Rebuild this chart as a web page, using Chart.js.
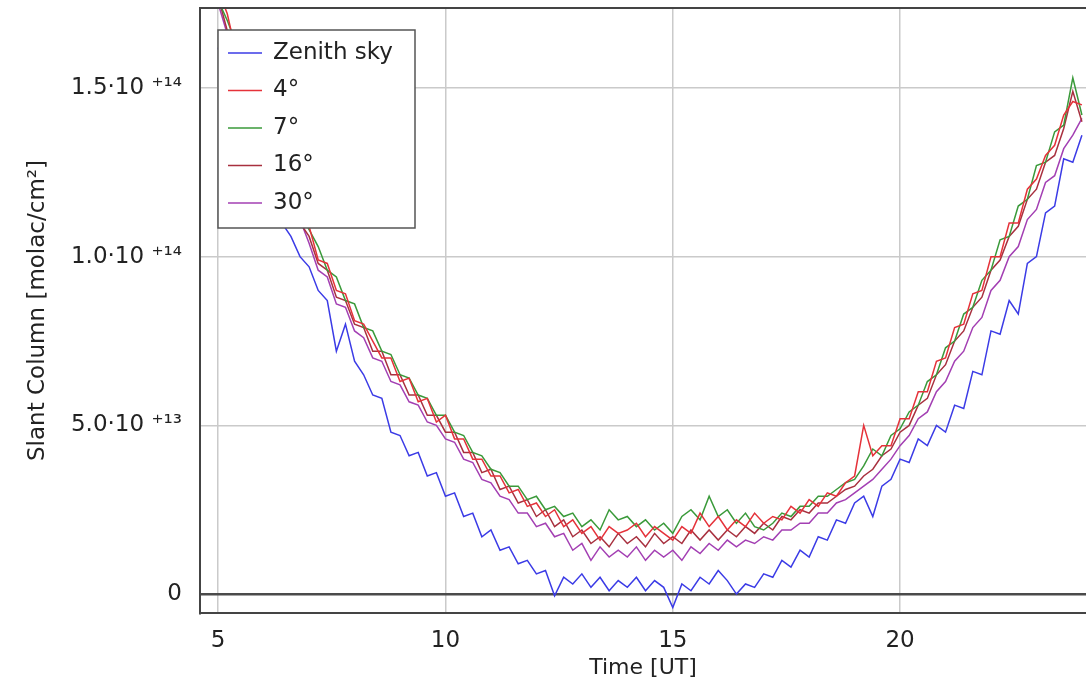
<!DOCTYPE html>
<html>
<head>
<meta charset="utf-8">
<script src="https://cdn.jsdelivr.net/npm/chart.js@4"></script>
<style>
  html, body { margin: 0; padding: 0; background: #fff; overflow: hidden; }
  #wrap { width: 1086px; height: 686px; }
</style>
</head>
<body>
<div id="wrap"><canvas id="chart" width="1086" height="686"></canvas></div>
<script>
// time in UT (hours)
const times = [
  5.0,5.2,5.4,5.6,5.8,6.0,6.2,6.4,6.6,6.8,
  7.0,7.2,7.4,7.6,7.8,8.0,8.2,8.4,8.6,8.8,
  9.0,9.2,9.4,9.6,9.8,10.0,10.2,10.4,10.6,10.8,
  11.0,11.2,11.4,11.6,11.8,12.0,12.2,12.4,12.6,12.8,
  13.0,13.2,13.4,13.6,13.8,14.0,14.2,14.4,14.6,14.8,
  15.0,15.2,15.4,15.6,15.8,16.0,16.2,16.4,16.6,16.8,
  17.0,17.2,17.4,17.6,17.8,18.0,18.2,18.4,18.6,18.8,
  19.0,19.2,19.4,19.6,19.8,20.0,20.2,20.4,20.6,20.8,
  21.0,21.2,21.4,21.6,21.8,22.0,22.2,22.4,22.6,22.8,
  23.0,23.2,23.4,23.6,23.8,24.0
];

// slant columns, in units of 1e13 molec/cm2
const zenith = [
  16.2,15.0,14.8,13.5,13.3,12.2,12.1,11.0,10.6,10.0,
  9.7,9.0,8.7,7.2,8.0,6.9,6.5,5.9,5.8,4.8,
  4.7,4.1,4.2,3.5,3.6,2.9,3.0,2.3,2.4,1.7,
  1.9,1.3,1.4,0.9,1.0,0.6,0.7,-0.05,0.5,0.3,
  0.6,0.2,0.5,0.1,0.4,0.2,0.5,0.1,0.4,0.2,
  -0.4,0.3,0.1,0.5,0.3,0.7,0.4,0.0,0.3,0.2,
  0.6,0.5,1.0,0.8,1.3,1.1,1.7,1.6,2.2,2.1,
  2.7,2.9,2.3,3.2,3.4,4.0,3.9,4.6,4.4,5.0,
  4.8,5.6,5.5,6.6,6.5,7.8,7.7,8.7,8.3,9.8,
  10.0,11.3,11.5,12.9,12.8,13.6
];
const deg4 = [
  17.9,17.2,16.0,15.6,14.5,14.2,13.1,12.9,12.1,11.3,
  10.9,9.9,9.8,9.0,8.9,8.1,8.0,7.5,7.0,7.0,
  6.3,6.4,5.7,5.8,5.1,5.3,4.6,4.6,4.0,4.0,
  3.5,3.5,3.0,3.1,2.6,2.7,2.3,2.5,2.0,2.2,
  1.8,2.0,1.6,2.0,1.8,1.9,2.1,1.7,2.0,1.8,
  1.6,2.0,1.8,2.4,2.0,2.3,1.9,2.2,2.0,2.4,
  2.1,2.3,2.2,2.6,2.4,2.8,2.6,3.0,2.9,3.3,
  3.5,5.0,4.1,4.4,4.4,5.2,5.2,6.0,6.0,6.9,
  7.0,7.9,8.0,8.9,9.0,10.0,10.0,11.0,11.0,12.0,
  12.3,13.0,13.3,14.2,14.6,14.5
];
const deg7 = [
  17.6,17.0,16.3,15.4,14.9,13.9,13.5,12.6,12.3,11.3,
  10.8,10.3,9.6,9.4,8.7,8.6,7.9,7.8,7.2,7.1,
  6.5,6.4,5.9,5.8,5.3,5.3,4.8,4.7,4.2,4.1,
  3.7,3.6,3.2,3.2,2.8,2.9,2.5,2.6,2.3,2.4,
  2.0,2.2,1.9,2.5,2.2,2.3,2.0,2.2,1.9,2.1,
  1.8,2.3,2.5,2.2,2.9,2.3,2.5,2.1,2.4,2.0,
  1.9,2.1,2.4,2.3,2.6,2.6,2.9,2.9,3.1,3.3,
  3.4,3.8,4.3,4.1,4.7,4.9,5.4,5.6,6.3,6.5,
  7.3,7.5,8.3,8.5,9.3,9.6,10.5,10.6,11.5,11.7,
  12.7,12.8,13.7,13.9,15.3,14.2
];
const deg16 = [
  17.7,16.7,16.2,15.1,14.7,13.7,13.3,12.4,12.1,11.0,
  10.6,9.8,9.6,8.8,8.7,8.0,7.9,7.2,7.2,6.5,
  6.5,5.9,5.9,5.3,5.3,4.8,4.8,4.2,4.2,3.6,
  3.7,3.1,3.2,2.7,2.8,2.3,2.5,2.0,2.2,1.7,
  1.9,1.5,1.7,1.4,1.8,1.5,1.7,1.4,1.8,1.5,
  1.7,1.5,1.9,1.6,1.9,1.6,1.9,1.7,2.0,1.8,
  2.1,1.9,2.3,2.2,2.5,2.4,2.7,2.7,2.9,3.1,
  3.2,3.5,3.7,4.1,4.3,4.8,5.0,5.6,5.8,6.5,
  6.8,7.5,7.8,8.5,8.8,9.6,9.9,10.6,10.9,11.7,
  12.0,12.8,13.0,13.8,14.9,14.0
];
const deg30 = [
  17.5,16.6,15.8,15.1,14.3,13.7,12.9,12.4,11.7,11.1,
  10.4,9.6,9.4,8.6,8.5,7.8,7.6,7.0,6.9,6.3,
  6.2,5.7,5.6,5.1,5.0,4.6,4.5,4.0,3.9,3.4,
  3.3,2.9,2.8,2.4,2.4,2.0,2.1,1.7,1.8,1.3,
  1.5,1.0,1.4,1.1,1.3,1.1,1.4,1.0,1.3,1.1,
  1.3,1.0,1.4,1.2,1.5,1.3,1.6,1.4,1.6,1.5,
  1.7,1.6,1.9,1.9,2.1,2.1,2.4,2.4,2.7,2.8,
  3.0,3.2,3.4,3.7,4.0,4.4,4.7,5.2,5.4,6.0,
  6.3,6.9,7.2,7.9,8.2,9.0,9.3,10.0,10.3,11.1,
  11.4,12.2,12.4,13.2,13.6,14.1
];

const seriesNames = ['Zenith sky', '4°', '7°', '16°', '30°'];
const seriesColors = ['#3b3be6', '#e5323a', '#3a9a3a', '#a8303f', '#a33fb3'];

const xTicks = [5, 10, 15, 20];
const yTicks = [0, 5, 10, 15];
const yTickLabels = ['0', '5.0·10 ⁺¹³', '1.0·10 ⁺¹⁴', '1.5·10 ⁺¹⁴'];

function pts(vals) {
  return times.map((t, i) => ({ x: t, y: vals[i] }));
}

Chart.defaults.font.family = '"DejaVu Sans", sans-serif';
Chart.defaults.color = '#222';

// legend drawn inside the plot, plus the top frame line
const boxLegend = {
  id: 'boxLegend',
  afterDatasetsDraw(chart) {
    const ctx = chart.ctx, a = chart.chartArea;
    const x0 = a.left + 18, y0 = a.top + 22, w = 197, h = 198;
    ctx.save();
    ctx.fillStyle = '#fff';
    ctx.fillRect(x0, y0, w, h);
    ctx.strokeStyle = '#555';
    ctx.lineWidth = 1.5;
    ctx.strokeRect(x0, y0, w, h);
    ctx.font = '23px "DejaVu Sans"';
    ctx.textBaseline = 'middle';
    ctx.fillStyle = '#222';
    chart.data.datasets.forEach((ds, i) => {
      const y = y0 + 23 + i * 37.5;
      ctx.strokeStyle = ds.borderColor;
      ctx.lineWidth = 1.5;
      ctx.beginPath();
      ctx.moveTo(x0 + 10, y);
      ctx.lineTo(x0 + 44, y);
      ctx.stroke();
      ctx.fillText(ds.label, x0 + 55, y);
    });
    ctx.strokeStyle = '#444';
    ctx.lineWidth = 2;
    ctx.beginPath();
    ctx.moveTo(a.left, a.top);
    ctx.lineTo(a.right, a.top);
    ctx.stroke();
    ctx.restore();
  }
};

const allSeries = [zenith, deg4, deg7, deg16, deg30];

new Chart(document.getElementById('chart'), {
  type: 'line',
  data: {
    datasets: allSeries.map((vals, i) => ({
      label: seriesNames[i],
      data: pts(vals),
      borderColor: seriesColors[i],
      borderWidth: 1.5,
      pointRadius: 0,
      tension: 0,
      fill: false
    }))
  },
  options: {
    responsive: false,
    animation: false,
    layout: { padding: { top: 8, left: 24, right: 0, bottom: 0 } },
    plugins: { legend: { display: false }, tooltip: { enabled: false } },
    scales: {
      x: {
        type: 'linear',
        min: 4.6,
        max: 24.09,
        afterBuildTicks: s => { s.ticks = xTicks.map(v => ({ value: v })); },
        afterFit: s => { s.height = 73; s.paddingLeft = 0; s.paddingRight = 0; },
        ticks: { font: { size: 23 }, padding: 14, maxRotation: 0 },
        grid: { color: '#cacaca', lineWidth: 1.5, drawTicks: false },
        border: { color: '#444', width: 2 },
        title: { display: true, text: 'Time [UT]', font: { size: 22 }, padding: { top: 0, bottom: 5 } }
      },
      y: {
        min: -0.56,
        max: 17.37,
        afterBuildTicks: s => { s.ticks = yTicks.map(v => ({ value: v })); },
        afterFit: s => { s.width = 176; s.paddingTop = 0; s.paddingBottom = 0; },
        ticks: {
          font: { size: 23 },
          padding: 18,
          callback: v => yTickLabels[yTicks.indexOf(v)]
        },
        grid: {
          color: c => (c.tick && c.tick.value === 0 ? '#4a4a4a' : '#cacaca'),
          lineWidth: c => (c.tick && c.tick.value === 0 ? 2.5 : 1.5),
          drawTicks: false
        },
        border: { color: '#444', width: 2 },
        title: { display: true, text: 'Slant Column [molac/cm²]', font: { size: 23 }, padding: { top: 0, bottom: 0 } }
      }
    }
  },
  plugins: [boxLegend]
});
</script>
</body>
</html>
